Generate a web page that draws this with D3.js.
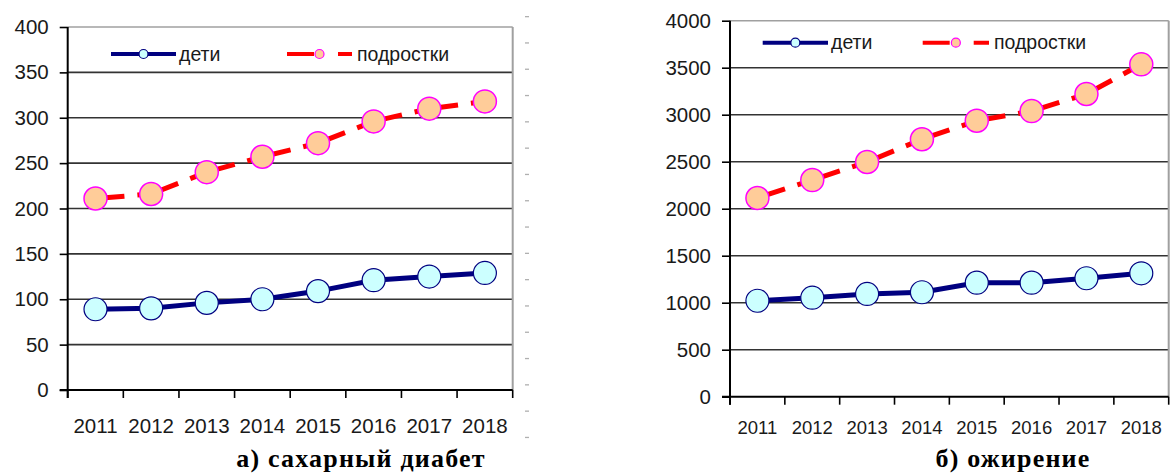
<!DOCTYPE html>
<html>
<head>
<meta charset="utf-8">
<script src="https://cdn.jsdelivr.net/npm/d3@7"></script>
<style>
	body { margin: 0; background: #fff; }
	svg { display: block; }
	text { font-family: 'Liberation Sans', Arial, sans-serif; fill: #1a1a1a; }
	.caption { font-family: 'Liberation Serif', 'Times New Roman', serif; font-weight: bold; fill: #000; }
</style>
</head>
<body>
<div id="chart"></div>
<script>
// data
var years = ['2011', '2012', '2013', '2014', '2015', '2016', '2017', '2018'];
var seriesNames = ['дети', 'подростки'];
var diabetesKids = [89, 90, 96, 100, 109, 121, 125, 129];
var diabetesTeens = [211, 216, 240, 257, 272, 296, 310, 318];
var obesityKids = [1021, 1053, 1093, 1111, 1213, 1213, 1260, 1313];
var obesityTeens = [2114, 2305, 2497, 2739, 2936, 3039, 3220, 3536];
var diabetesTicks = [0, 50, 100, 150, 200, 250, 300, 350, 400];
var obesityTicks = [0, 500, 1000, 1500, 2000, 2500, 3000, 3500, 4000];
var captions = ['а) сахарный диабет', 'б) ожирение'];

initCharts();

// two panels side by side
function initCharts() {
	var svg = d3.select('#chart')
		.append('svg')
		.attr('width', 1170)
		.attr('height', 475);

	var panels = [
		{
			left: 67.7, right: 512.7, top: 27, bottom: 390,
			ticks: diabetesTicks, kids: diabetesKids, teens: diabetesTeens,
			caption: captions[0], captionX: 361,
			xFont: 20.5, xPad: 28, legendY: 54,
			legendKids: [111, 176], legendTeens: [287, 352]
		},
		{
			left: 730, right: 1168.7, top: 20.7, bottom: 396.7,
			ticks: obesityTicks, kids: obesityKids, teens: obesityTeens,
			caption: captions[1], captionX: 1013,
			xFont: 18.5, xPad: 24, legendY: 42.7,
			legendKids: [762.7, 828], legendTeens: [922.7, 989]
		}
	];

	panels.forEach(drawPanel);

	// small gray dashes right of the first chart
	svg.append('g')
		.selectAll('rect')
		.data(d3.range(17))
		.enter()
		.append('rect')
		.attr('x', 525)
		.attr('y', function(d) { return 16 + d * 26.3; })
		.attr('width', 4)
		.attr('height', 1.3)
		.attr('fill', '#b0b0b0');

	function drawPanel(p) {
		var xScale = d3.scaleBand()
			.domain(years)
			.range([p.left, p.right]);

		var yScale = d3.scaleLinear()
			.domain([p.ticks[0], p.ticks[p.ticks.length - 1]])
			.range([p.bottom, p.top]);

		var g = svg.append('g');

		// gridlines
		g.selectAll('.grid')
			.data(p.ticks.slice(1))
			.enter()
			.append('line')
			.attr('x1', p.left)
			.attr('x2', p.right)
			.attr('y1', function(d) { return yScale(d); })
			.attr('y2', function(d) { return yScale(d); })
			.attr('stroke', function(d, i) { return i === p.ticks.length - 2 ? '#a0a0a0' : '#333'; })
			.attr('stroke-width', 1.6);

		// right border
		g.append('line')
			.attr('x1', p.right)
			.attr('x2', p.right)
			.attr('y1', p.top)
			.attr('y2', p.bottom)
			.attr('stroke', '#a0a0a0')
			.attr('stroke-width', 2);

		// y axis
		var yAxis = g.append('g')
			.attr('transform', 'translate(' + p.left + ',0)')
			.call(d3.axisLeft(yScale).tickValues(p.ticks).tickFormat(d3.format('d')).tickSize(8).tickPadding(11).tickSizeOuter(0));
		yAxis.select('.domain').remove();
		yAxis.selectAll('line').attr('stroke', '#000').attr('stroke-width', 1.6);
		yAxis.selectAll('text').style('font-size', '20.5px').attr('fill', '#1a1a1a');

		// x axis labels
		var xAxis = g.append('g')
			.attr('transform', 'translate(0,' + p.bottom + ')')
			.call(d3.axisBottom(xScale).tickSize(0).tickPadding(p.xPad));
		xAxis.select('.domain').remove();
		xAxis.selectAll('text').style('font-size', p.xFont + 'px').attr('fill', '#1a1a1a');

		// x boundary ticks
		var bounds = years.map(function(d) { return xScale(d); }).concat([p.right]);
		g.selectAll('.xtick')
			.data(bounds)
			.enter()
			.append('line')
			.attr('x1', function(d) { return d; })
			.attr('x2', function(d) { return d; })
			.attr('y1', p.bottom)
			.attr('y2', p.bottom + 8)
			.attr('stroke', '#000')
			.attr('stroke-width', 1.6);

		// axis lines
		g.append('line')
			.attr('x1', p.left).attr('x2', p.left)
			.attr('y1', p.top).attr('y2', p.bottom + 8)
			.attr('stroke', '#000').attr('stroke-width', 2);
		g.append('line')
			.attr('x1', p.left - 8).attr('x2', p.right)
			.attr('y1', p.bottom).attr('y2', p.bottom)
			.attr('stroke', '#000').attr('stroke-width', 2);

		var cx = function(d, i) { return xScale(years[i]) + xScale.bandwidth() / 2; };
		var cy = function(d) { return yScale(d); };

		// kids series
		var line = d3.line().x(cx).y(cy);
		g.append('path')
			.datum(p.kids)
			.attr('d', line)
			.attr('fill', 'none')
			.attr('stroke', '#000080')
			.attr('stroke-width', 5);
		g.selectAll('.kid')
			.data(p.kids)
			.enter()
			.append('circle')
			.attr('cx', cx)
			.attr('cy', cy)
			.attr('r', 11.5)
			.attr('fill', '#ccffff')
			.attr('stroke', '#000080')
			.attr('stroke-width', 1.2);

		// teens series, dashed per segment
		var pts = p.teens.map(function(d, i) { return [cx(d, i), cy(d)]; });
		g.selectAll('.teenSeg')
			.data(d3.pairs(pts))
			.enter()
			.append('line')
			.attr('x1', function(d) { return d[0][0]; })
			.attr('y1', function(d) { return d[0][1]; })
			.attr('x2', function(d) { return d[1][0]; })
			.attr('y2', function(d) { return d[1][1]; })
			.attr('stroke', '#ff0000')
			.attr('stroke-width', 5)
			.attr('stroke-dasharray', '29,13');
		g.selectAll('.teen')
			.data(p.teens)
			.enter()
			.append('circle')
			.attr('cx', cx)
			.attr('cy', cy)
			.attr('r', 11.5)
			.attr('fill', '#ffcc99')
			.attr('stroke', '#ff00ff')
			.attr('stroke-width', 1.5);

		// legend
		var lk = p.legendKids;
		var lt = p.legendTeens;
		g.append('line')
			.attr('x1', lk[0]).attr('x2', lk[1])
			.attr('y1', p.legendY).attr('y2', p.legendY)
			.attr('stroke', '#000080').attr('stroke-width', 4);
		g.append('circle')
			.attr('cx', (lk[0] + lk[1]) / 2).attr('cy', p.legendY).attr('r', 4.5)
			.attr('fill', '#ccffff').attr('stroke', '#000080').attr('stroke-width', 1.2);
		g.append('text')
			.attr('x', lk[1] + 3).attr('y', p.legendY + 6.5)
			.style('font-size', '19.5px')
			.text(seriesNames[0]);

		g.append('line')
			.attr('x1', lt[0]).attr('x2', lt[1])
			.attr('y1', p.legendY).attr('y2', p.legendY)
			.attr('stroke', '#ff0000').attr('stroke-width', 4)
			.attr('stroke-dasharray', '27,24');
		g.append('circle')
			.attr('cx', (lt[0] + lt[1]) / 2).attr('cy', p.legendY).attr('r', 4.5)
			.attr('fill', '#ffcc99').attr('stroke', '#ff00ff').attr('stroke-width', 1.2);
		g.append('text')
			.attr('x', lt[1] + 5).attr('y', p.legendY + 6.5)
			.style('font-size', '19.5px')
			.text(seriesNames[1]);

		// caption
		svg.append('text')
			.attr('class', 'caption')
			.attr('x', p.captionX)
			.attr('y', 467)
			.attr('text-anchor', 'middle')
			.style('font-size', '26px')
			.style('letter-spacing', '1.2px')
			.text(p.caption);
	}
}
</script>
</body>
</html>
